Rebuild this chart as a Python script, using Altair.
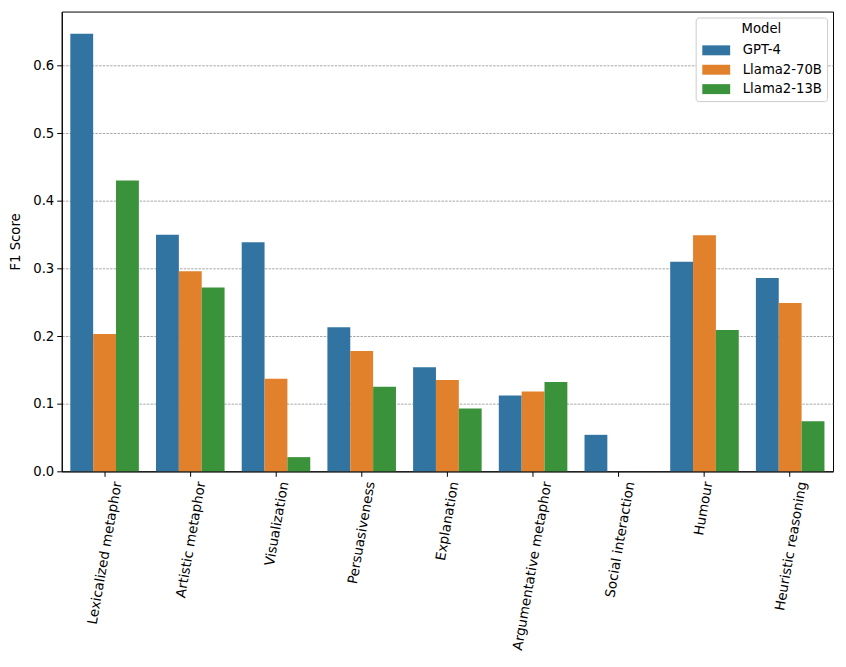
import altair as alt
import pandas as pd

categories = ["Lexicalized metaphor", "Artistic metaphor", "Visualization", "Persuasiveness",
              "Explanation", "Argumentative metaphor", "Social interaction", "Humour",
              "Heuristic reasoning"]
models = ["GPT-4", "Llama2-70B", "Llama2-13B"]
gpt4 = [0.647, 0.350, 0.339, 0.213, 0.154, 0.112, 0.054, 0.310, 0.286]
llama70 = [0.203, 0.296, 0.137, 0.178, 0.135, 0.118, 0.0, 0.349, 0.249]
llama13 = [0.430, 0.272, 0.021, 0.125, 0.093, 0.132, 0.0, 0.209, 0.074]
colors = ["#3274a1", "#e1812c", "#3a923a"]

rows = []
for m, vals in zip(models, [gpt4, llama70, llama13]):
    for c, v in zip(categories, vals):
        rows.append({"Category": c, "Model": m, "F1": v})
df = pd.DataFrame(rows)

FONT = "DejaVu Sans"

chart = alt.Chart(df).mark_bar().encode(
    x=alt.X("Category:N", sort=categories,
            scale=alt.Scale(paddingInner=0.2, paddingOuter=0.1),
            axis=alt.Axis(title=None, labelAngle=280, labelAlign="right", labelBaseline="middle",
                          labelFontSize=13.6, labelPadding=5,
                          labelOffset={"expr": "0.087 * 7.6 * length(datum.label)"},
                          tickSize=5, tickColor="black", domainColor="black", grid=False,
                          labelColor="black", labelFont=FONT)),
    xOffset=alt.XOffset("Model:N", sort=models,
                        scale=alt.Scale(paddingInner=0, paddingOuter=0)),
    y=alt.Y("F1:Q", scale=alt.Scale(domain=[0, 0.68], nice=False),
            axis=alt.Axis(title="F1 Score", values=[0, 0.1, 0.2, 0.3, 0.4, 0.5, 0.6], format=".1f",
                          labelFontSize=13.3, titleFontSize=13.3, titleFontWeight="normal",
                          titleFont=FONT, labelFont=FONT, labelColor="black", titleColor="black",
                          tickSize=5, tickColor="black", domainColor="black", labelPadding=3,
                          titlePadding=10, grid=True, gridColor="#808080", gridDash=[2.5, 1.2],
                          gridWidth=0.7)),
    color=alt.Color("Model:N", sort=models,
                    scale=alt.Scale(domain=models, range=colors),
                    legend=alt.Legend(title="Model", orient="top-right", offset=6,
                                      titleFontSize=13.3, titleFontWeight="normal", titleFont=FONT,
                                      titleAnchor="middle", titleAlign="center",
                                      labelFontSize=13.3, labelFont=FONT, labelColor="black",
                                      titleColor="black",
                                      symbolType="M-2.8,-1H2.8V1H-2.8Z", symbolSize=100,
                                      symbolStrokeWidth=0, symbolOpacity=1,
                                      symbolOffset=9, labelOffset=20, rowPadding=5.5,
                                      padding=5, strokeColor="#cccccc", fillColor="white",
                                      cornerRadius=3, titlePadding=8)),
).properties(
    width=775, height=462,
    autosize=alt.AutoSizeParams(type="none"),
    padding={"left": 54, "top": 2, "right": 5, "bottom": 190},
).configure(font=FONT).configure_view(stroke="black", strokeWidth=1)

chart.save("out.html", embed_options={"renderer": "svg", "actions": False})
